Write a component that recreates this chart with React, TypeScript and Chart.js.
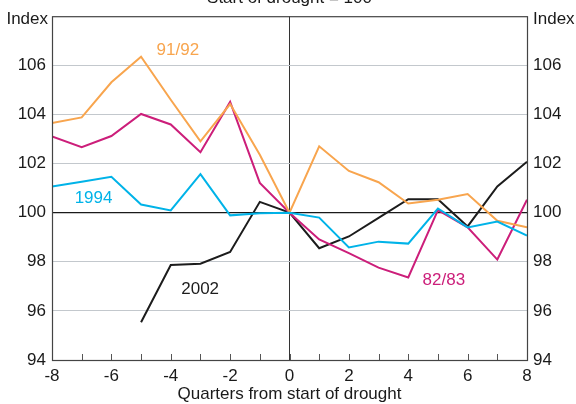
import React, { useEffect, useRef } from "react";
import { Chart, registerables } from "chart.js";

Chart.register(...registerables);

const quarters = [-8, -7, -6, -5, -4, -3, -2, -1, 0, 1, 2, 3, 4, 5, 6, 7, 8];
const s9192 = [103.65, 103.88, 105.31, 106.35, 104.6, 102.9, 104.42, 102.36, 100, 102.7, 101.7, 101.24, 100.37, 100.53, 100.76, 99.67, 99.4];
const s8283 = [103.1, 102.67, 103.12, 104.02, 103.59, 102.46, 104.51, 101.21, 100, 98.91, 98.35, 97.76, 97.36, 100.1, 99.4, 98.09, 100.53];
const s1994 = [101.06, 101.26, 101.46, 100.33, 100.09, 101.57, 99.89, 99.98, 100, 99.8, 98.58, 98.82, 98.74, 100.17, 99.4, 99.64, 99.07];
const s2002 = [null, null, null, 95.54, 97.87, 97.92, 98.4, 100.44, 100, 98.55, 99.03, 99.79, 100.55, 100.55, 99.44, 101.07, 102.07];

const seriesNames = ["82/83", "91/92", "1994", "2002"];
const seriesColors = ["#CC1E7A", "#F8A54E", "#00B3E8", "#1C1C1C"];
const labelPos = [
  { x: 5.2, y: 97.25 },
  { x: -3.76, y: 106.6 },
  { x: -6.6, y: 100.58 },
  { x: -3.01, y: 96.89 },
];

const titleText = "Start of drought = 100";
const xTitle = "Quarters from start of drought";
const yUnit = "Index";
const FONT = "'Liberation Sans', Arial, sans-serif";
const FS = 17;

export default function App() {
  const ref = useRef<HTMLCanvasElement>(null);

  useEffect(() => {
    const canvas = ref.current;
    if (!canvas) return;

    const overlay = {
      id: "overlay",
      beforeDatasetsDraw(chart: any) {
        const { ctx, chartArea: a, scales } = chart;
        const x = scales.x;
        ctx.save();
        ctx.strokeStyle = "#555";
        ctx.lineWidth = 1;
        for (let q = -7; q <= 7; q++) {
          const px = Math.round(x.getPixelForValue(q)) + 0.5;
          ctx.beginPath();
          ctx.moveTo(px, a.bottom);
          ctx.lineTo(px, a.bottom - 6);
          ctx.stroke();
        }
        ctx.restore();
      },
      afterDraw(chart: any) {
        const { ctx, chartArea: a, scales } = chart;
        ctx.save();
        ctx.strokeStyle = "#444";
        ctx.lineWidth = 1.2;
        ctx.strokeRect(a.left + 0.5, a.top + 0.5, a.right - a.left, a.bottom - a.top);
        ctx.font = `${FS}px ${FONT}`;
        ctx.fillStyle = "#1a1a1a";
        ctx.textBaseline = "middle";
        ctx.textAlign = "right";
        ctx.fillText(yUnit, a.left - 4, 19);
        ctx.textAlign = "left";
        ctx.fillText(yUnit, a.right + 6, 19);
        ctx.textAlign = "center";
        ctx.textBaseline = "alphabetic";
        ctx.fillText(titleText, (a.left + a.right) / 2, 3);
        ctx.textBaseline = "middle";
        seriesNames.forEach((n, i) => {
          ctx.fillStyle = seriesColors[i];
          ctx.fillText(n, scales.x.getPixelForValue(labelPos[i].x), scales.y.getPixelForValue(labelPos[i].y));
        });
        ctx.restore();
      },
    };

    const mk = (data: any[], i: number) => ({
      label: seriesNames[i],
      data: quarters.map((q, k) => ({ x: q, y: data[k] })),
      borderColor: seriesColors[i],
      borderWidth: 2,
      pointRadius: 0,
      fill: false,
      tension: 0,
      spanGaps: false,
    });

    const yTicks = {
      stepSize: 2,
      padding: 6,
      color: "#1a1a1a",
      font: { family: FONT, size: FS },
    };
    const filter108 = (s: any) => {
      s.ticks = s.ticks.filter((t: any) => t.value <= 106);
    };

    const chart = new Chart(canvas, {
      type: "line",
      data: {
        datasets: [mk(s1994, 2), mk(s9192, 1), mk(s8283, 0), mk(s2002, 3)],
      },
      options: {
        animation: false,
        responsive: false,
        maintainAspectRatio: false,
        layout: { padding: { top: 11, left: 0, right: 0, bottom: 0 } },
        plugins: { legend: { display: false }, tooltip: { enabled: false }, title: { display: false } },
        scales: {
          x: {
            type: "linear",
            position: "bottom",
            min: -8,
            max: 8,
            afterFit: (s: any) => { s.height = 44; },
            ticks: {
              stepSize: 2,
              padding: 6,
              maxRotation: 0,
              color: "#1a1a1a",
              font: { family: FONT, size: FS },
            },
            grid: {
              drawTicks: false,
              color: (c: any) => (c.tick && c.tick.value === 0 ? "#333" : "rgba(0,0,0,0)"),
              lineWidth: 1,
            },
            border: { display: false },
            title: {
              display: true,
              text: xTitle,
              color: "#1a1a1a",
              font: { family: FONT, size: FS, lineHeight: 1.1 },
              padding: { top: 0, bottom: 0 },
            },
          },
          y: {
            position: "left",
            min: 94,
            max: 108,
            afterFit: (s: any) => { s.width = 52; },
            afterBuildTicks: filter108,
            ticks: yTicks,
            grid: {
              drawTicks: false,
              color: (c: any) => (c.tick && c.tick.value === 100 ? "#1a1a1a" : "#C3C8CD"),
              lineWidth: (c: any) => (c.tick && c.tick.value === 100 ? 1.2 : 1),
            },
            border: { display: false },
          },
          y2: {
            position: "right",
            min: 94,
            max: 108,
            afterFit: (s: any) => { s.width = 49; },
            afterBuildTicks: filter108,
            ticks: yTicks,
            grid: { display: false, drawTicks: false },
            border: { display: false },
          },
        },
      },
      plugins: [overlay],
    } as any);

    return () => chart.destroy();
  }, []);

  return (
    <div style={{ position: "fixed", left: 0, top: 0, width: 576, height: 404, background: "#fff" }}>
      <canvas ref={ref} width={576} height={404} />
    </div>
  );
}
